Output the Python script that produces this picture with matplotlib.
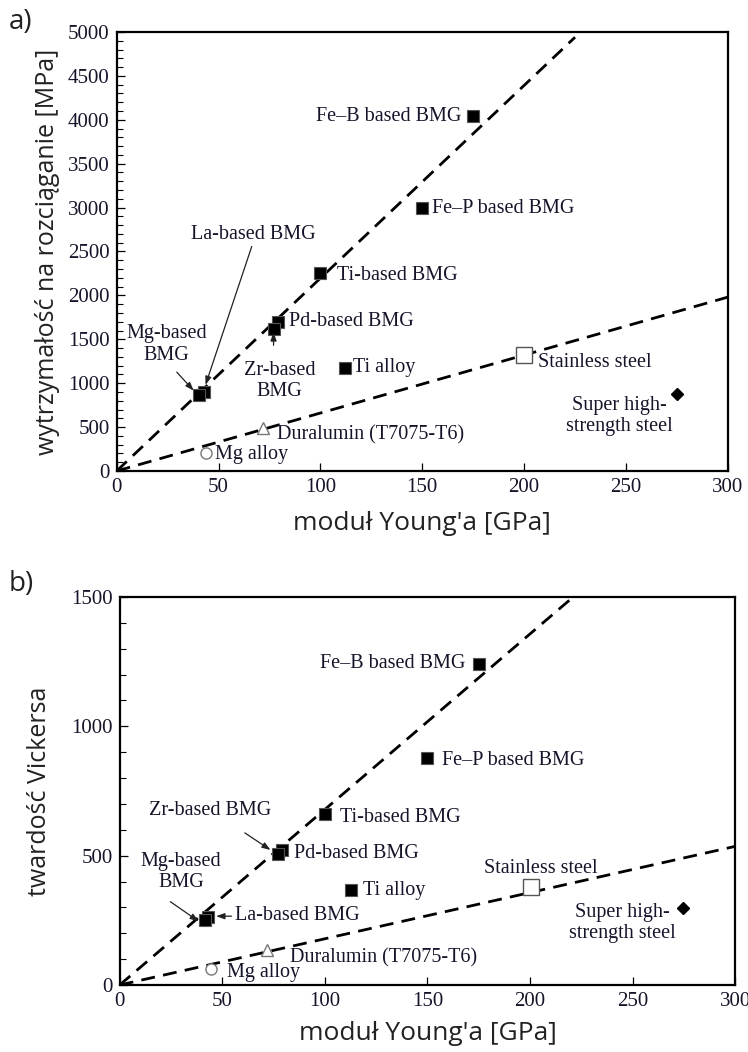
import matplotlib
matplotlib.use("Agg")
import matplotlib.pyplot as plt
import numpy as np
from matplotlib.ticker import MultipleLocator

# ---------------- data ----------------
materials = ["Fe-B based BMG", "Fe-P based BMG", "Ti-based BMG", "Pd-based BMG",
             "Zr-based BMG", "La-based BMG", "Mg-based BMG", "Ti alloy",
             "Stainless steel", "Super high-strength steel",
             "Duralumin (T7075-T6)", "Mg alloy"]
young_a = [175, 150, 100, 79, 77, 43, 40.5, 112, 200, 275, 72, 44]
strength_a = [4040, 2990, 2250, 1700, 1620, 900, 860, 1176, 1324, 878, 489, 202]
young_b = [175, 150, 100, 79, 77, 43, 41.5, 112.5, 200.5, 274.5, 72, 44.5]
hardness_b = [1240, 877, 663, 521, 508, 261, 250, 367, 378, 296, 134, 60]
marker_kind = ["bmg", "bmg", "bmg", "bmg", "bmg", "bmg", "bmg", "bmg",
               "sq_open", "diamond", "tri_open", "circ_open"]

# guide lines (slopes per GPa)
slope_a_bmg, slope_a_cryst = 5000 / 225.0, 2000 / 300.0
slope_b_bmg, slope_b_cryst = 1500 / 221.0, 536 / 300.0

TXT = "#15152a"
SERIF = ["Liberation Serif", "DejaVu Serif"]
SANS = ["Open Sans", "DejaVu Sans"]
FS = 14.5

fig = plt.figure(figsize=(7.48, 10.52), dpi=100)
axA = fig.add_axes([0.156, 0.5523, 0.817, 0.4173])
axB = fig.add_axes([0.160, 0.0637, 0.823, 0.3688])


def draw_points(ax, xs, ys):
    for x, y, k in zip(xs, ys, marker_kind):
        if k == "bmg":
            ax.plot(x, y, marker="s", ms=8, mfc="black", mec="#555555", mew=0.8,
                    ls="none", zorder=4)
        elif k == "sq_open":
            ax.plot(x, y, marker="s", ms=12, mfc="white", mec="#555555", mew=1.0,
                    ls="none", zorder=4)
        elif k == "diamond":
            ax.plot(x, y, marker="D", ms=6, mfc="black", mec="black",
                    ls="none", zorder=4)
        elif k == "tri_open":
            ax.plot(x, y, marker="^", ms=9, mfc="white", mec="#777777", mew=1.0,
                    ls="none", zorder=4)
        elif k == "circ_open":
            ax.plot(x, y, marker="o", ms=8, mfc="white", mec="#777777", mew=1.0,
                    ls="none", zorder=4)


def style(ax, xmax, ymax, ymaj, ymin, xpad):
    ax.set_xlim(0, xmax)
    ax.set_ylim(0, ymax)
    ax.xaxis.set_major_locator(MultipleLocator(50))
    ax.yaxis.set_major_locator(MultipleLocator(ymaj))
    ax.yaxis.set_minor_locator(MultipleLocator(ymin))
    ax.tick_params(which="both", direction="in", top=False, right=False,
                   labelsize=15, labelcolor=TXT, pad=5)
    ax.tick_params(which="major", length=6, width=0.9)
    ax.tick_params(which="minor", length=4, width=0.8)
    for lab in ax.get_xticklabels() + ax.get_yticklabels():
        lab.set_family(SERIF)
    for s in ax.spines.values():
        s.set_linewidth(1.6)
    ax.set_xlabel("moduł Young'a [GPa]", fontsize=19, family=SANS, color="#222222",
                  labelpad=xpad)


def t(ax, x, y, s, ha="left", va="center"):
    ax.text(x, y, s, ha=ha, va=va, fontsize=FS, family=SERIF, color=TXT,
            linespacing=1.15, zorder=5)


def arrow(ax, x0, y0, x1, y1):
    ax.annotate("", xy=(x1, y1), xytext=(x0, y0),
                arrowprops=dict(arrowstyle="-|>,head_length=0.5,head_width=0.18",
                                color="#222222", lw=0.9, shrinkA=0, shrinkB=0),
                zorder=5)


dash = dict(color="black", lw=2.0, ls=(0, (5, 3)), zorder=3)

# ---------------- panel a ----------------
xs = np.array([0, 225])
axA.plot(xs, slope_a_bmg * xs * 0.988, **dash)
xs2 = np.array([0, 300])
axA.plot(xs2, slope_a_cryst * xs2 * 0.99, **dash)
draw_points(axA, young_a, strength_a)
style(axA, 300, 5000, 500, 100, 10)
axA.set_ylabel("wytrzymałość na rozciąganie [MPa]", fontsize=18, family=SANS,
               color="#222222", labelpad=6)

t(axA, 169, 4042, "Fe–B based BMG", ha="right")
t(axA, 155, 2992, "Fe–P based BMG")
t(axA, 67, 2690, "La-based BMG", ha="center")
arrow(axA, 66.3, 2557, 43.6, 980)
t(axA, 108, 2221, "Ti-based BMG")
t(axA, 84.5, 1700, "Pd-based BMG")
t(axA, 24.5, 1440, "Mg-based\nBMG", ha="center")
arrow(axA, 29.5, 1126, 37.8, 915)
t(axA, 80, 1025, "Zr-based\nBMG", ha="center")
arrow(axA, 77, 1431, 77, 1580)
t(axA, 116, 1176, "Ti alloy")
t(axA, 207, 1235, "Stainless steel")
t(axA, 247, 626, "Super high-\nstrength steel", ha="center")
t(axA, 78.5, 410, "Duralumin (T7075-T6)")
t(axA, 48.5, 183, "Mg alloy")

# ---------------- panel b ----------------
xs = np.array([0, 221])
axB.plot(xs, slope_b_bmg * xs, **dash)
axB.plot(xs2, slope_b_cryst * xs2, **dash)
draw_points(axB, young_b, hardness_b)
style(axB, 300, 1500, 500, 100, 7)
axB.set_ylabel("twardość Vickersa", fontsize=18, family=SANS, color="#222222",
               labelpad=14)

t(axB, 168.5, 1242, "Fe–B based BMG", ha="right")
t(axB, 157, 866, "Fe–P based BMG")
t(axB, 44, 673, "Zr-based BMG", ha="center")
arrow(axB, 61, 588, 73.5, 522)
t(axB, 107.5, 647, "Ti-based BMG")
t(axB, 85, 508, "Pd-based BMG")
t(axB, 30, 436, "Mg-based\nBMG", ha="center")
arrow(axB, 24.7, 322, 38.5, 246)
t(axB, 56, 268, "La-based BMG")
arrow(axB, 54.5, 266, 47, 266)
t(axB, 118.5, 365, "Ti alloy")
t(axB, 205, 452, "Stainless steel", ha="center")
t(axB, 245, 241, "Super high-\nstrength steel", ha="center")
t(axB, 83, 106, "Duralumin (T7075-T6)")
t(axB, 52.5, 47, "Mg alloy")

fig.text(0.012, 0.992, "a)", fontsize=20, family=SANS, color="#222222",
         ha="left", va="top")
fig.text(0.012, 0.458, "b)", fontsize=20, family=SANS, color="#222222",
         ha="left", va="top")

fig.savefig("out.png", dpi=100)
